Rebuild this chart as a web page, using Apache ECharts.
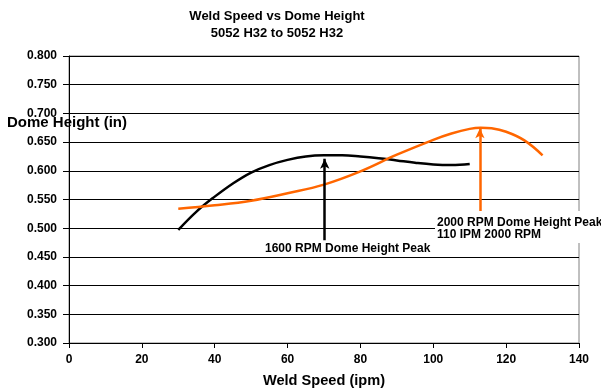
<!DOCTYPE html>
<html>
<head>
<meta charset="utf-8">
<script src="https://cdn.jsdelivr.net/npm/echarts@6/dist/echarts.min.js"></script>
<style>
html,body{margin:0;padding:0;background:#fff;}
#chart{width:601px;height:389px;}
</style>
</head>
<body>
<div id="chart"></div>
<script>
// ---- data ----
var titleLines = ['Weld Speed vs Dome Height', '5052 H32 to 5052 H32'];
var xAxisTitle = 'Weld Speed (ipm)';
var yAxisTitle = 'Dome Height (in)';

var rpm1600X = [30, 35, 40, 45, 50, 55, 60, 65, 70, 75, 80, 85, 90, 95, 100, 105, 110];
var rpm1600Y = [0.497, 0.529, 0.555, 0.578, 0.597, 0.610, 0.619, 0.625, 0.627, 0.627, 0.625, 0.622, 0.618, 0.614, 0.611, 0.610, 0.612];

var rpm2000X = [30, 40, 50, 60, 70, 80, 90, 100, 105, 110, 113, 116, 120, 125, 130];
var rpm2000Y = [0.534, 0.540, 0.548, 0.561, 0.576, 0.599, 0.628, 0.654, 0.665, 0.673, 0.675, 0.674, 0.668, 0.653, 0.627];

var arrow1600 = [70.2, 0.479, 0.621];   // x, from y, to y
var arrow2000 = [112.8, 0.528, 0.674];
var label1600 = ['1600 RPM Dome Height Peak'];
var label2000 = ['2000 RPM Dome Height Peak', '110 IPM 2000 RPM'];

var xMin = 0, xMax = 140, xStep = 20;
var yMin = 0.3, yMax = 0.8, yStep = 0.05;

// ---- chart ----
function pairs(xs, ys) { return xs.map(function (x, i) { return [x, ys[i]]; }); }
var FONT = '"Liberation Sans", Arial, sans-serif';
var BLACK = '#000000', ORANGE = '#FF6600';

var chart = echarts.init(document.getElementById('chart'), null, {renderer: 'canvas'});
chart.setOption({
  animation: false,
  backgroundColor: '#ffffff',
  grid: {left: 69, right: 22, top: 56, bottom: 46, show: true, borderColor: '#808080', borderWidth: 1, backgroundColor: 'transparent'},
  xAxis: {
    type: 'value', min: xMin, max: xMax, interval: xStep,
    axisLine: {show: true, onZero: false, lineStyle: {color: '#000', width: 1}},
    axisTick: {show: true, inside: false, length: 5, lineStyle: {color: '#000'}},
    axisLabel: {margin: 11, color: '#000', fontFamily: FONT, fontWeight: 'bold', fontSize: 12},
    splitLine: {show: false}
  },
  yAxis: {
    type: 'value', min: yMin, max: yMax, interval: yStep,
    axisLine: {show: true, onZero: false, lineStyle: {color: '#000', width: 1}},
    axisTick: {show: true, inside: false, length: 6, lineStyle: {color: '#000'}},
    axisLabel: {margin: 12, color: '#000', fontFamily: FONT, fontWeight: 'bold', fontSize: 12,
      formatter: function (v) { return v.toFixed(3); }},
    splitLine: {show: true, lineStyle: {color: '#000', width: 1}}
  },
  series: [
    {
      type: 'line', name: '1600 RPM', data: pairs(rpm1600X, rpm1600Y), smooth: 0.4,
      showSymbol: false, symbol: 'none', lineStyle: {color: BLACK, width: 2.5}, z: 3,
      markLine: {
        silent: true, symbol: ['none', 'arrow'], symbolSize: [7, 10], label: {show: false},
        lineStyle: {color: BLACK, width: 2.5, type: 'solid'},
        data: [[{coord: [arrow1600[0], arrow1600[1]]}, {coord: [arrow1600[0], arrow1600[2]]}]]
      }
    },
    {
      type: 'line', name: '2000 RPM', data: pairs(rpm2000X, rpm2000Y), smooth: 0.4,
      showSymbol: false, symbol: 'none', lineStyle: {color: ORANGE, width: 2.5}, z: 3,
      markLine: {
        silent: true, symbol: ['none', 'arrow'], symbolSize: [7, 10], label: {show: false},
        lineStyle: {color: ORANGE, width: 2.5, type: 'solid'},
        data: [[{coord: [arrow2000[0], arrow2000[1]]}, {coord: [arrow2000[0], arrow2000[2]]}]]
      }
    }
  ],
  graphic: [
    {type: 'text', x: 277, y: 8, z: 10, style: {text: titleLines.join('\n'), fill: '#000', font: 'bold 13px ' + FONT, align: 'center', lineHeight: 17}},
    {type: 'text', x: 7, y: 115, z: 10, style: {text: yAxisTitle, fill: '#000', font: 'bold 15px ' + FONT}},
    {type: 'text', x: 324, y: 373, z: 10, style: {text: xAxisTitle, fill: '#000', font: 'bold 14.6px ' + FONT, align: 'center'}},
    {type: 'text', x: 265, y: 243, z: 10, style: {text: label1600[0], fill: '#000', font: 'bold 12px ' + FONT}},
    {type: 'text', x: 435, y: 211, z: 10, style: {text: label2000.join('\n'), fill: '#000', font: 'bold 12px ' + FONT, lineHeight: 12.5, backgroundColor: '#fff', padding: [5, 4, 2, 2]}}
  ]
});
</script>
</body>
</html>
